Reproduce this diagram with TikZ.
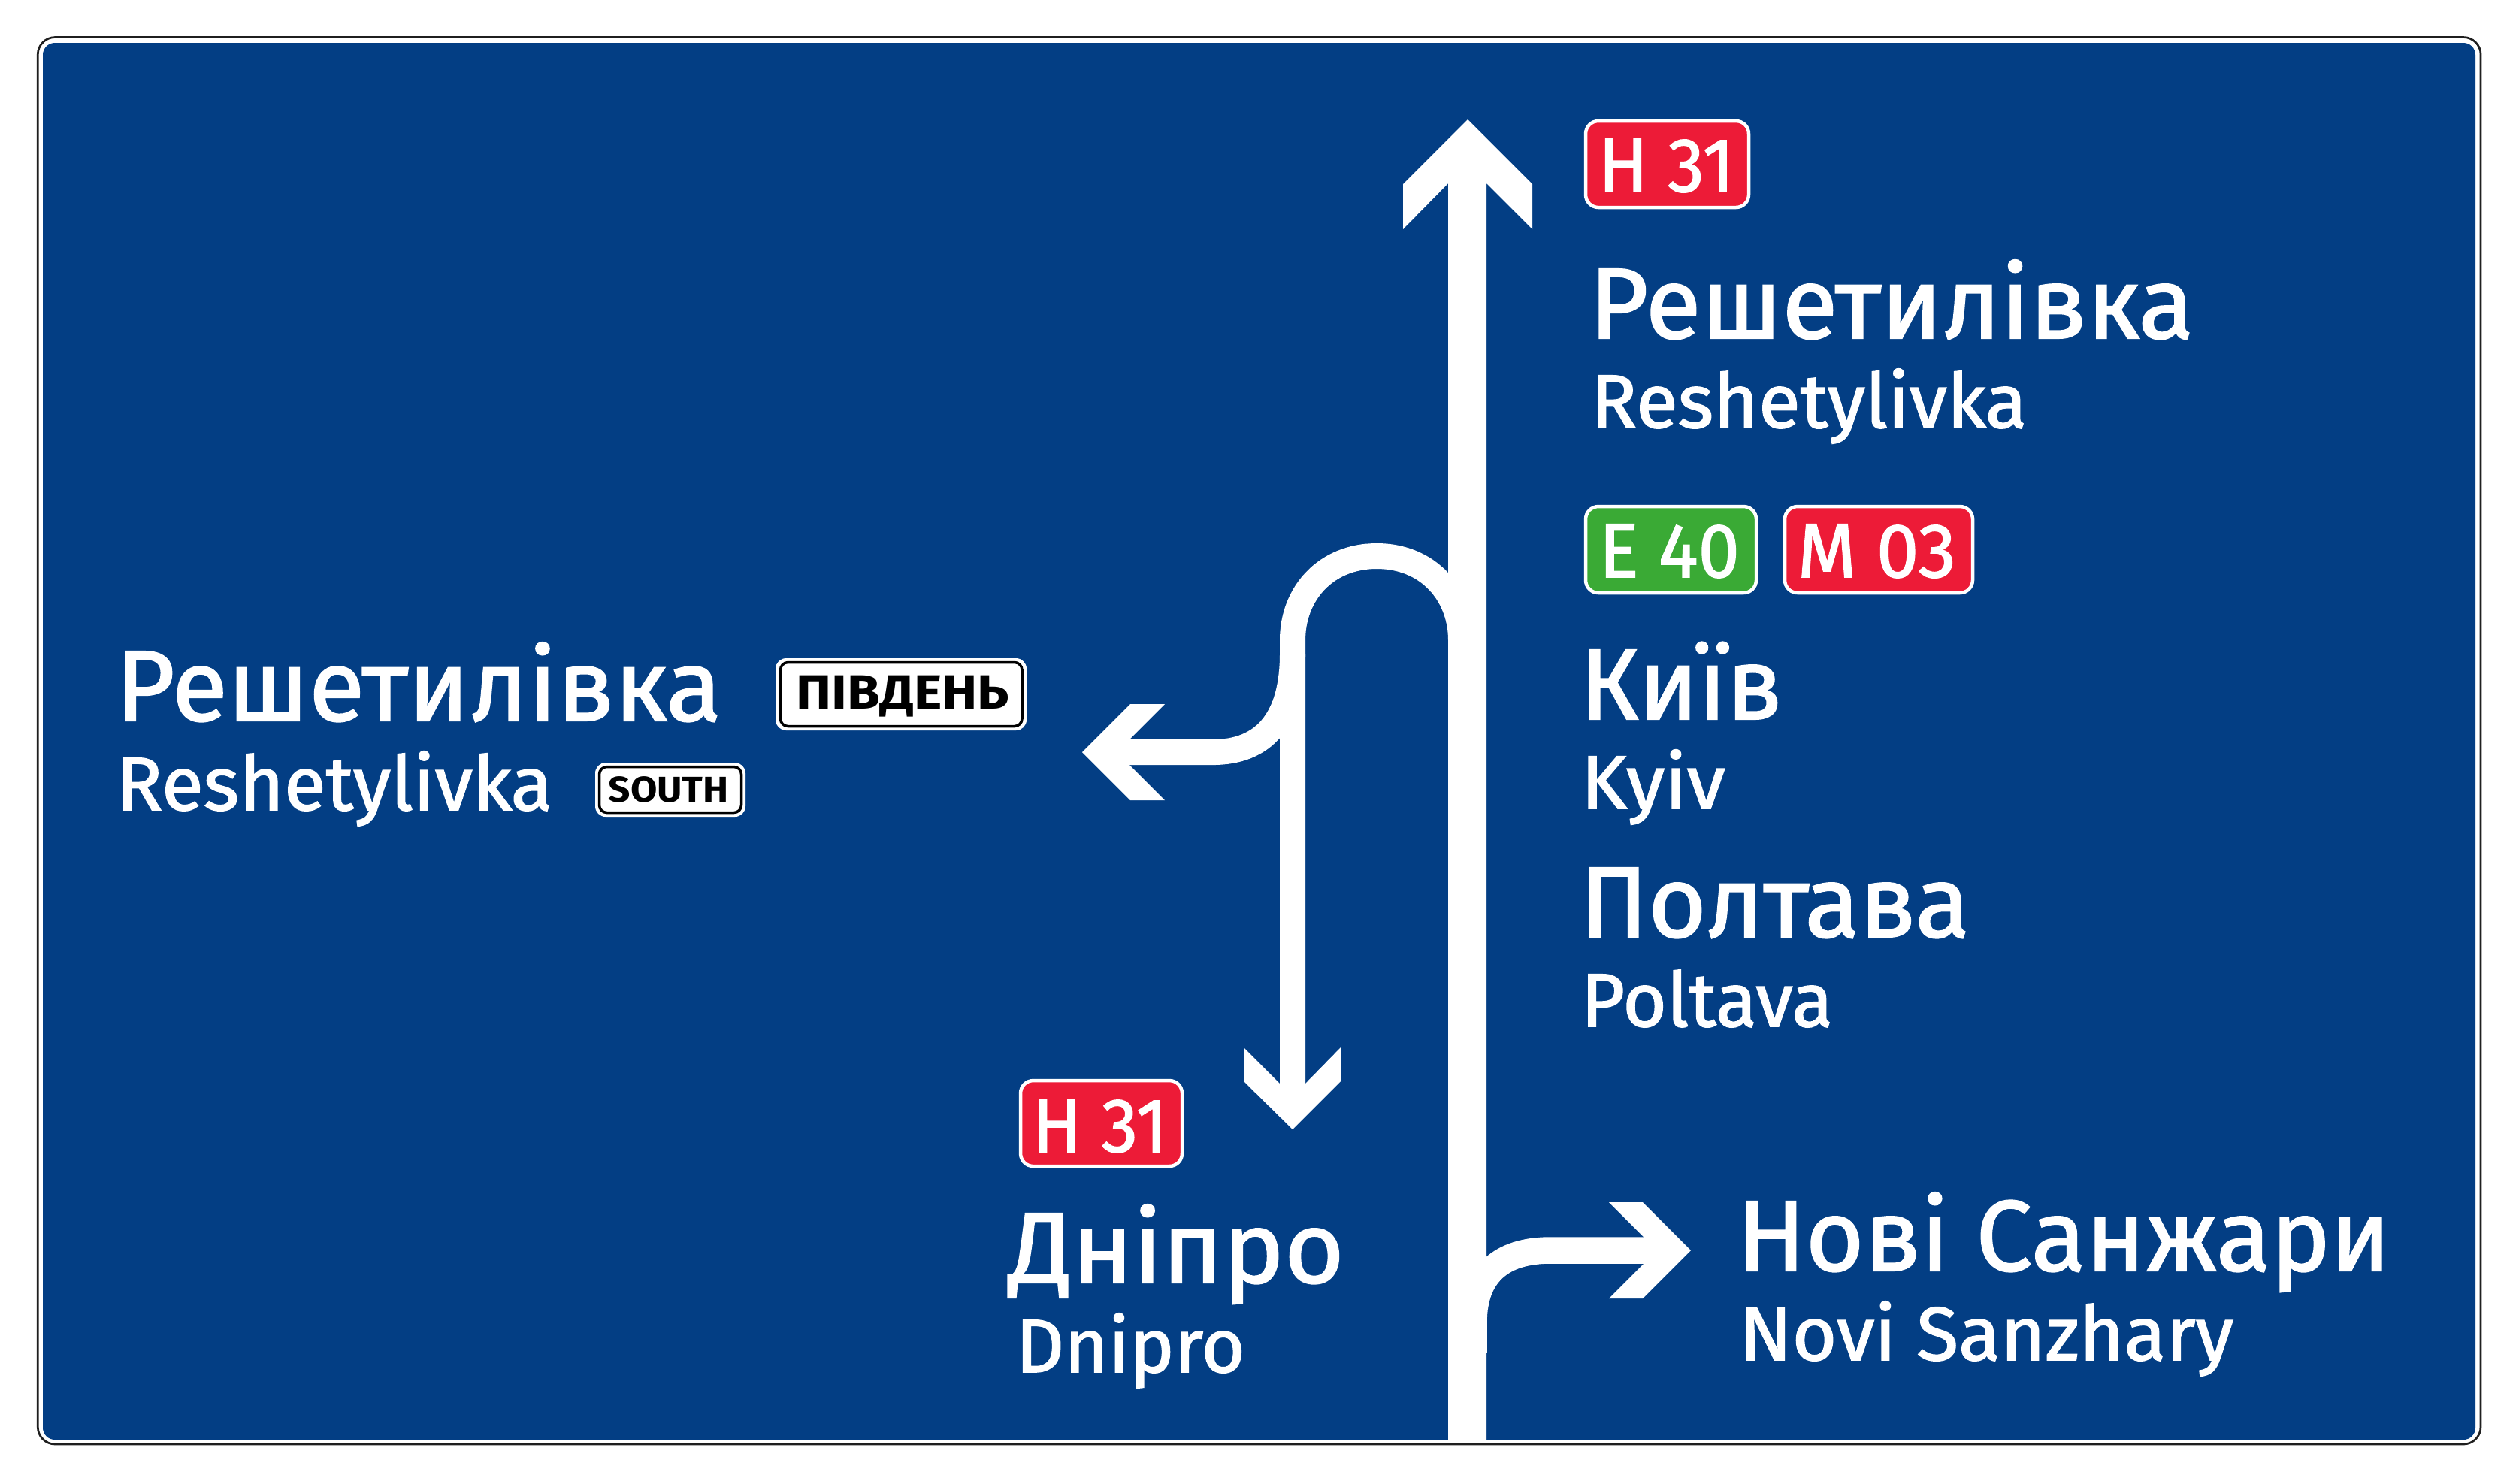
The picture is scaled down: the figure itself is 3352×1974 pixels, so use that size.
\documentclass[tikz,border=0pt]{standalone}
\usepackage{fontspec}
\setmainfont{Fira Sans}
\newfontfamily\signfont{Fira Sans}[FakeBold=1.5]
\usepackage{graphicx}
\definecolor{signblue}{RGB}{3,62,132}
\definecolor{signred}{RGB}{237,27,55}
\definecolor{signgreen}{RGB}{58,170,53}
\newcommand\fitw[2]{\resizebox{#1}{\height}{#2}}
\tikzset{
  road/.style={draw=white, line width=0.34cm},
  cyr/.style={anchor=base west, inner sep=0pt, text=white, font=\signfont\fontsize{38.0}{40}\selectfont},
  lat/.style={anchor=base west, inner sep=0pt, text=white, font=\signfont\fontsize{28.6}{30}\selectfont},
  btxt/.style={anchor=base west, inner sep=0pt, text=white, font=\signfont\fontsize{29.0}{30}\selectfont},
  rbadge/.style={draw=white, line width=0.045cm, rounded corners=0.17cm, inner sep=0pt},
  wouter/.style={fill=white, rounded corners=0.14cm},
  winner/.style={draw=black, line width=0.035cm, rounded corners=0.1cm},
}
\begin{document}
\begin{tikzpicture}[x=0.01cm,y=-0.01cm]
\useasboundingbox (0,0) rectangle (3352,1974);
\fill[white] (0,0) rectangle (3352,1974);
% sign plate
\draw[black!88, line width=0.027cm, fill=white, rounded corners=0.23cm] (50.3,49.5) rectangle (3301,1922);
\fill[signblue, rounded corners=0.16cm] (57,57) rectangle (3294,1916);

% main straight-ahead arrow
\fill[white] (1953,159) -- (2039,245) -- (2039,305) -- (1978,244) -- (1978,1916)
  -- (1927,1916) -- (1927,244) -- (1867,305) -- (1867,245) -- cycle;

% loop and down arrow
\draw[road] (1944,900) -- (1944,852) .. controls (1944,790) and (1900,740) .. (1832,740)
  .. controls (1764,740) and (1720,790) .. (1720,852) -- (1720,1448);
\fill[white] (1720,1503) -- (1655,1439) -- (1655,1394) -- (1703,1442) -- (1737,1442)
  -- (1784,1394) -- (1784,1439) -- cycle;

% left branch
\draw[road] (1720,870) .. controls (1720,960) and (1680,1001) .. (1614,1001) -- (1498,1001);
\fill[white] (1440,1001) -- (1504,937) -- (1550,937) -- (1503,984) -- (1503,1018)
  -- (1550,1065) -- (1504,1065) -- cycle;

% right branch
\draw[draw=white, line width=0.355cm] (1961,1800) -- (1961,1760) .. controls (1961,1695) and (1998,1664) .. (2063,1664) -- (2192,1664);
\fill[white] (2250,1664) -- (2186,1600) -- (2141,1600) -- (2187,1646) -- (2187,1682)
  -- (2141,1728) -- (2186,1728) -- cycle;

% route badges
\filldraw[rbadge, fill=signred] (2110,161) rectangle (2327,276);
\node[btxt] (h31top) at (2126,255) {\fitw{1.81cm}{Н 31}};
\filldraw[rbadge, fill=signgreen] (2110,674) rectangle (2337,789);
\node[btxt] (e40) at (2127,768) {\fitw{1.87cm}{E 40}};
\filldraw[rbadge, fill=signred] (2375,674) rectangle (2625,789);
\node[btxt] (m03) at (2391,768) {\fitw{2.11cm}{М 03}};
\filldraw[rbadge, fill=signred] (1358,1438) rectangle (1573,1552);
\node[btxt] (h31low) at (1373,1533) {\fitw{1.80cm}{Н 31}};

% direction plates
\fill[wouter] (1032,876) rectangle (1366,972);
\draw[winner] (1038.5,881.5) rectangle (1360,966.5);
\node[anchor=base west, inner sep=0pt, font=\bfseries\fontsize{18.2}{19}\selectfont] (pivden) at (1059,943) {\fitw{2.83cm}{ПІВДЕНЬ}};
\fill[wouter] (792,1015) rectangle (992,1087);
\draw[winner] (797.5,1020.5) rectangle (986.5,1081.5);
\node[anchor=base west, inner sep=0pt, font=\bfseries\fontsize{13.6}{14}\selectfont] (south) at (809,1067) {\fitw{1.60cm}{SOUTH}};

% place names
\node[cyr] (reshT) at (2114,450) {\fitw{8.04cm}{Решетилівка}};
\node[lat] (reshTl) at (2116,569) {\fitw{5.80cm}{Reshetylivka}};
\node[cyr] (reshL) at (153,959) {\fitw{8.06cm}{Решетилівка}};
\node[lat] (reshLl) at (154,1078) {\fitw{5.80cm}{Reshetylivka}};
\node[cyr] (kyiv) at (2102,957) {\fitw{2.69cm}{Київ}};
\node[lat] (kyivl) at (2103,1076) {\fitw{1.92cm}{Kyiv}};
\node[cyr] (poltava) at (2102,1247) {\fitw{5.18cm}{Полтава}};
\node[lat] (poltaval) at (2103,1366) {\fitw{3.35cm}{Poltava}};
\node[cyr] (dnipro) at (1342,1707) {\fitw{4.46cm}{Дніпро}};
\node[lat] (dniprol) at (1351,1826) {\fitw{3.05cm}{Dnipro}};
\node[cyr] (novi) at (2311,1691) {\fitw{8.69cm}{Нові Санжари}};
\node[lat] (novil) at (2314,1810) {\fitw{6.57cm}{Novi Sanzhary}};
\end{tikzpicture}
\end{document}
